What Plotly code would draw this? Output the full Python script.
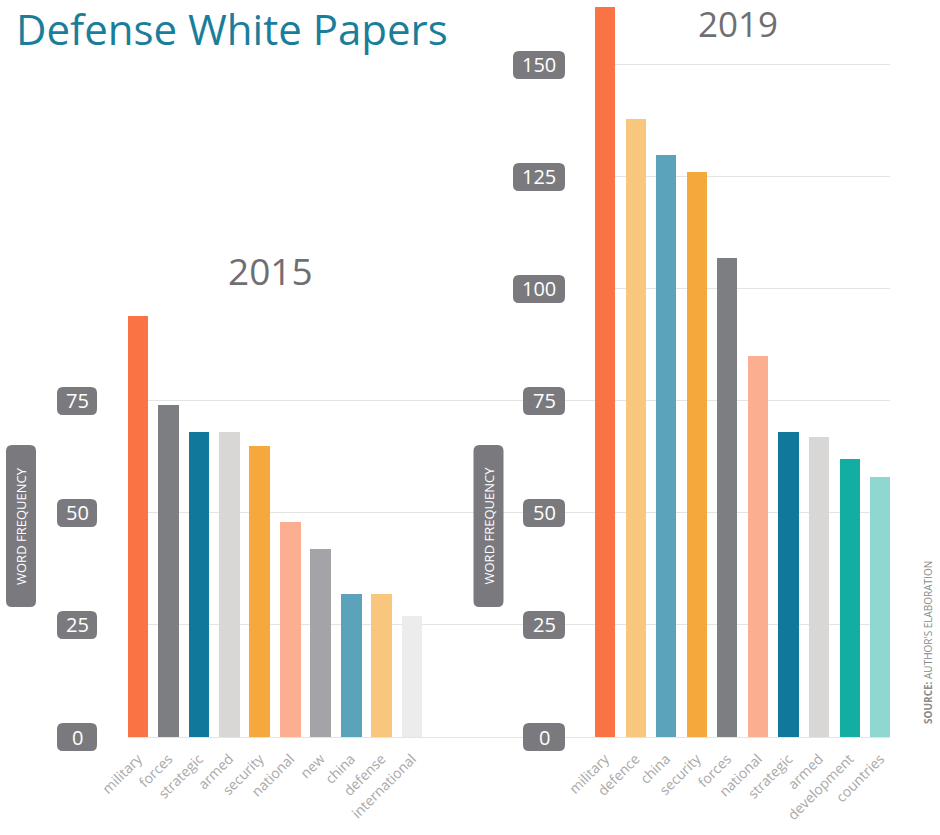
import plotly.graph_objects as go

# ---------------- data ----------------
cats_2015 = ["military", "forces", "strategic", "armed", "security",
             "national", "new", "china", "defense", "international"]
vals_2015 = [94, 74, 68, 68, 65, 48, 42, 32, 32, 27]
cols_2015 = ["#fa7344", "#7d7e82", "#10789a", "#d8d7d5", "#f5a93c",
             "#fcae90", "#a4a4a8", "#5aa3ba", "#f9c67e", "#ececec"]

cats_2019 = ["military", "defence", "china", "security", "forces",
             "national", "strategic", "armed", "development", "countries"]
vals_2019 = [163, 138, 130, 126, 107, 85, 68, 67, 62, 58]
cols_2019 = ["#fa7344", "#f9c67e", "#5aa3ba", "#f5a93c", "#7d7e82",
             "#fcae90", "#10789a", "#d8d7d5", "#12aea3", "#8fd8d2"]

ticks_2015 = [0, 25, 50, 75]
ticks_2019 = [0, 25, 50, 75, 100, 125, 150]
grid_2019 = [100, 125, 150]

W, H = 940, 835
FONT = "Open Sans"
PILL = "#7a7a7e"
GRID = "#e4e4e4"
LABEL = "#a9a9a9"

ydom = [1 - 737 / H, 1.0]
yrange = [0, 164.5]


def px(x):
    return x / W


def py(y):
    return 1 - y / H


def vy(v):
    # value on the (shared) y scale -> paper coordinate
    return ydom[0] + (v - yrange[0]) / (yrange[1] - yrange[0]) * (ydom[1] - ydom[0])


def rrect(w, h, r):
    a, b = w / 2, h / 2
    return (f"M {-a + r},{-b} L {a - r},{-b} Q {a},{-b} {a},{-b + r} "
            f"L {a},{b - r} Q {a},{b} {a - r},{b} L {-a + r},{b} "
            f"Q {-a},{b} {-a},{b - r} L {-a},{-b + r} Q {-a},{-b} {-a + r},{-b} Z")


fig = go.Figure()
fig.add_trace(go.Bar(x=cats_2015, y=vals_2015, marker=dict(color=cols_2015, line=dict(width=0)),
                     width=0.68, xaxis="x", yaxis="y", hoverinfo="x+y"))
fig.add_trace(go.Bar(x=cats_2019, y=vals_2019, marker=dict(color=cols_2019, line=dict(width=0)),
                     width=0.66, xaxis="x2", yaxis="y2", hoverinfo="x+y"))

tickfont = dict(family=FONT, size=14, color=LABEL)

fig.update_layout(
    width=W, height=H,
    margin=dict(l=0, r=0, t=0, b=0, pad=0, autoexpand=False),
    paper_bgcolor="white",
    plot_bgcolor="rgba(0,0,0,0)",
    showlegend=False,
    bargap=0,
    xaxis=dict(domain=[px(128), px(890)], anchor="y", type="category",
               categoryorder="array", categoryarray=cats_2015, automargin=False,
               range=[-0.33, 24.7], showgrid=False, zeroline=False, showline=False,
               ticks="", tickangle=-45, tickfont=tickfont, ticklabelstandoff=10),
    yaxis=dict(domain=ydom, anchor="x", range=yrange, tickvals=ticks_2015, automargin=False,
               showticklabels=False, showgrid=True, gridcolor=GRID, gridwidth=1,
               zeroline=True, zerolinecolor=GRID, zerolinewidth=1),
    xaxis2=dict(domain=[px(595), px(890)], anchor="y2", type="category",
                categoryorder="array", categoryarray=cats_2019, automargin=False,
                range=[-0.33, 9.32], showgrid=False, zeroline=False, showline=False,
                ticks="", tickangle=-45, tickfont=tickfont, ticklabelstandoff=10),
    yaxis2=dict(domain=ydom, anchor="x2", range=yrange, tickvals=grid_2019, automargin=False,
                showticklabels=False, showgrid=True, gridcolor=GRID, gridwidth=1,
                zeroline=False),
)

shapes = []
annotations = []

# tick pills
for ticks, left_chart, right in ((ticks_2015, True, 97), (ticks_2019, False, 565)):
    for v in ticks:
        w = 52 if v >= 100 else (40 if left_chart else 42)
        cx = right - w / 2
        shapes.append(dict(type="path", xref="paper", yref="paper",
                           xsizemode="pixel", ysizemode="pixel",
                           xanchor=px(cx), yanchor=vy(v), path=rrect(w, 28, 6),
                           fillcolor=PILL, line=dict(width=0), layer="above"))
        annotations.append(dict(x=px(cx), y=vy(v), xref="paper", yref="paper", text=str(v),
                                showarrow=False, xanchor="center", yanchor="middle",
                                font=dict(family=FONT, size=20, color="white")))

# axis title pills
for cx in (21, 488.5):
    shapes.append(dict(type="path", xref="paper", yref="paper",
                       xsizemode="pixel", ysizemode="pixel",
                       xanchor=px(cx), yanchor=py(526), path=rrect(30, 162, 6),
                       fillcolor=PILL, line=dict(width=0), layer="above"))
    annotations.append(dict(x=px(cx), y=py(526), xref="paper", yref="paper",
                            text="WORD FREQUENCY", textangle=-90, showarrow=False,
                            xanchor="center", yanchor="middle",
                            font=dict(family=FONT, size=13, color="white")))

annotations += [
    dict(x=px(14), y=py(28), xref="paper", yref="paper", text="Defense White Papers",
         showarrow=False, xanchor="left", yanchor="middle",
         font=dict(family=FONT, size=42, color="#1a7e9b")),
    dict(x=px(270), y=py(270), xref="paper", yref="paper", text="2015",
         showarrow=False, xanchor="center", yanchor="middle",
         font=dict(family=FONT, size=37, color="#6f6f72")),
    dict(x=px(738), y=py(24), xref="paper", yref="paper", text="2019",
         showarrow=False, xanchor="center", yanchor="middle",
         font=dict(family=FONT, size=35, color="#6f6f72")),
    dict(x=px(928), y=py(643), xref="paper", yref="paper",
         text="<b>SOURCE:</b> AUTHOR'S ELABORATION", textangle=-90,
         showarrow=False, xanchor="center", yanchor="middle",
         font=dict(family=FONT, size=10, color="#8a8a8a")),
]

fig.update_layout(shapes=shapes, annotations=annotations)
fig.write_html("out.html")
